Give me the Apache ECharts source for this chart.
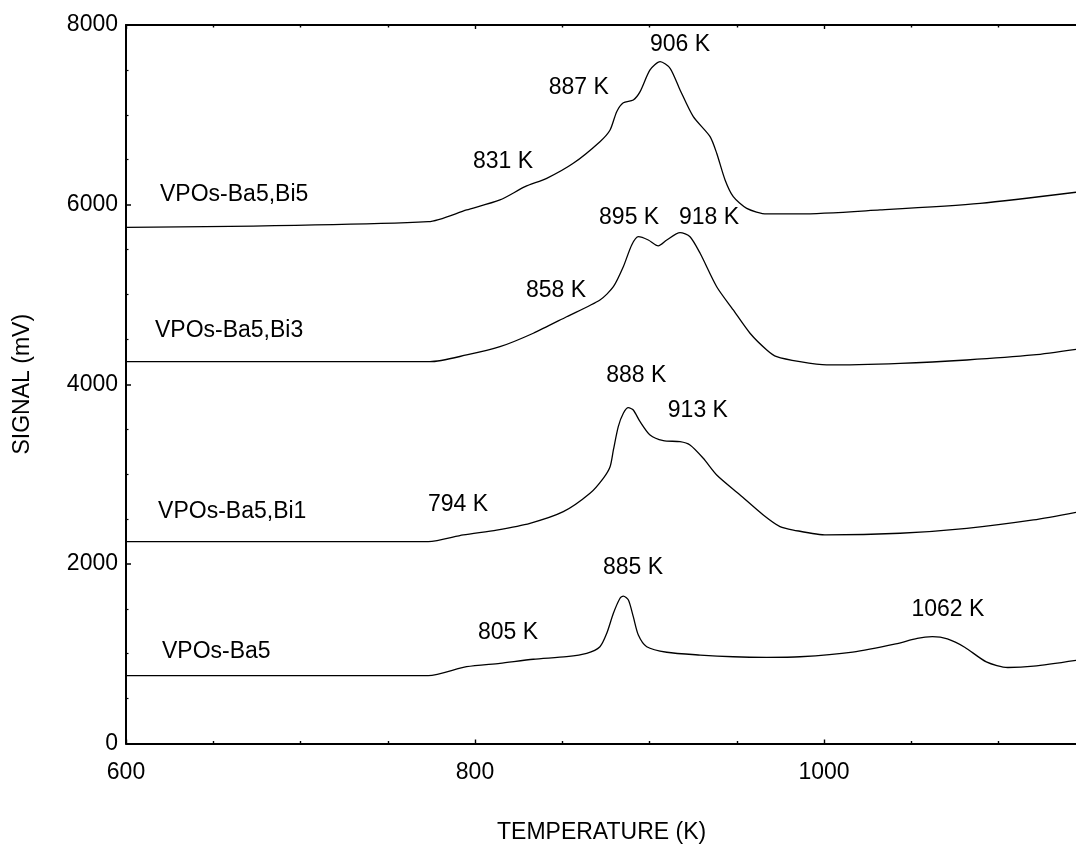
<!DOCTYPE html>
<html>
<head>
<meta charset="utf-8">
<script src="https://cdn.jsdelivr.net/npm/echarts@6/dist/echarts.min.js"></script>
<style>
  html, body { margin: 0; padding: 0; background: #fff; }
  #chart { width: 1076px; height: 847px; }
</style>
</head>
<body>
<div id="chart"></div>
<script>
// ---- Data (temperature K, signal mV) ----
var ba5 = [
  [600, 755], [773.2, 755], [795.2, 855], [814.3, 893], [833.4, 938], [852.5, 967],
  [864.0, 1004], [871.6, 1078], [875.5, 1227], [879.3, 1450], [883.1, 1617], [885.0, 1642],
  [887.9, 1598], [890.7, 1412], [893.6, 1208], [898.4, 1078], [909.9, 1016], [929.0, 985],
  [948.0, 966], [967.2, 960], [986.2, 966], [1016.4, 1018], [1041.1, 1109], [1053.4, 1171],
  [1062.1, 1189], [1070.7, 1164], [1080.6, 1072], [1093.0, 909], [1105.3, 846],
  [1120.1, 861], [1144.4, 926]
];
var bi1 = [
  [600, 2247], [773.2, 2247], [793.3, 2322], [812.4, 2377], [831.5, 2452], [850.6, 2581],
  [865.9, 2786], [873.5, 2953], [877.4, 3082], [879.3, 3268], [882.1, 3528], [885.0, 3677],
  [887.9, 3739], [890.7, 3713], [894.6, 3583], [900.3, 3435], [907.9, 3372], [917.5, 3361],
  [923.2, 3324], [930.8, 3176], [938.5, 2990], [951.9, 2767], [965.2, 2544], [974.8, 2414],
  [982.4, 2377], [1001.5, 2322], [1043.6, 2341], [1081.8, 2396], [1120.0, 2489], [1144.4, 2574]
];
var bi3 = [
  [600, 4251], [774.2, 4251], [795.2, 4326], [814.3, 4418], [833.4, 4568], [852.5, 4752],
  [871.6, 4938], [879.3, 5086], [885.0, 5309], [889.8, 5551], [893.6, 5643], [899.3, 5606],
  [905.0, 5540], [909.9, 5606], [917.5, 5688], [923.2, 5643], [929.0, 5458], [938.5, 5086],
  [948.0, 4827], [957.6, 4568], [967.2, 4382], [972.9, 4307], [986.2, 4251], [1001.5, 4215],
  [1043.6, 4233], [1081.8, 4270], [1120.0, 4326], [1144.4, 4389]
];
var bi5 = [
  [600, 5746], [773.2, 5810], [795.2, 5941], [814.3, 6052], [828.7, 6200], [841.1, 6293],
  [856.3, 6460], [871.6, 6701], [877.4, 6831], [881.2, 7035], [885.0, 7135], [890.7, 7165],
  [894.6, 7258], [900.3, 7500], [906.1, 7592], [911.8, 7518], [917.5, 7277], [925.1, 6979],
  [934.7, 6757], [938.5, 6572], [943.3, 6275], [948.0, 6089], [955.7, 5959], [967.2, 5896],
  [986.2, 5896], [1032.1, 5941], [1089.4, 6015], [1144.4, 6138]
];
// Peak annotations: [T, signal, text]
var peakLabels = [
  [917.5, 7778, '906 K'], [859.5, 7299, '887 K'], [816.0, 6483, '831 K'],
  [888.3, 5850, '895 K'], [934.1, 5850, '918 K'], [846.4, 5039, '858 K'],
  [892.4, 4094, '888 K'], [927.7, 3705, '913 K'], [790.3, 2660, '794 K'],
  [890.5, 1960, '885 K'], [1071.0, 1495, '1062 K'], [818.9, 1236, '805 K']
];
// Sample names: [T, signal, text] (left anchored)
var sampleLabels = [
  [619.5, 6108, 'VPOs-Ba5,Bi5'], [616.6, 4595, 'VPOs-Ba5,Bi3'],
  [618.4, 2581, 'VPOs-Ba5,Bi1'], [620.6, 1019, 'VPOs-Ba5']
];
// Tick values
var xMajorTicks = [600, 800, 1000];
var xMinorTicks = [650, 700, 750, 850, 900, 950, 1050, 1100];
var yTickValues = [0, 2000, 4000, 6000, 8000];

var FONT = '"Liberation Sans", Arial, sans-serif';
var chart = echarts.init(document.getElementById('chart'), null, { renderer: 'canvas' });

function lineSeries(name, data) {
  return {
    name: name, type: 'line', data: data, symbol: 'none', smooth: 0.25,
    lineStyle: { color: '#000', width: 1.3 }, silent: true, animation: false,
    xAxisIndex: 0, yAxisIndex: 0
  };
}
function textSeries(data, align) {
  return {
    type: 'scatter', data: data, symbolSize: 0, silent: true, animation: false,
    xAxisIndex: 0, yAxisIndex: 0,
    itemStyle: { opacity: 1, color: '#000' },
    label: {
      show: true, position: 'inside', color: '#000', opacity: 1, fontFamily: FONT, fontSize: 23,
      align: align, verticalAlign: 'middle',
      formatter: function (p) { return p.data[2]; }
    }
  };
}
function plain(v) { return String(v); }

function xAxisDef(position, tickValues, tickLen, showLabel, showLine) {
  return {
    type: 'value', min: 600, max: 1144.4, interval: 200, position: position,
    axisLine: { show: showLine, onZero: false, lineStyle: { color: '#000', width: 2 } },
    axisTick: { show: true, inside: true, length: tickLen, customValues: tickValues,
                lineStyle: { color: '#000', width: 1.4 } },
    minorTick: { show: false },
    splitLine: { show: false },
    axisLabel: showLabel ? {
      show: true, color: '#000', fontFamily: FONT, fontSize: 23, margin: 18,
      customValues: xMajorTicks, formatter: plain
    } : { show: false }
  };
}

var option = {
  backgroundColor: '#fff',
  animation: false,
  grid: { left: 126, top: 25, right: 0, bottom: 103.5, containLabel: false },
  xAxis: [
    xAxisDef('bottom', xMajorTicks, 4, true, true),
    xAxisDef('bottom', xMinorTicks, 2.5, false, false),
    xAxisDef('top', xMajorTicks, 4, false, true),
    xAxisDef('top', xMinorTicks, 2.5, false, false)
  ],
  yAxis: {
    type: 'value', min: 0, max: 8000, interval: 2000,
    name: 'SIGNAL (mV)', nameLocation: 'middle', nameGap: 92, nameRotate: 90,
    nameTextStyle: { color: '#000', fontFamily: FONT, fontSize: 23 },
    axisLine: { show: true, lineStyle: { color: '#000', width: 2 } },
    axisTick: { show: true, inside: true, length: 5, lineStyle: { color: '#000', width: 1.5 } },
    minorTick: { show: true, splitNumber: 4, length: 2.5, lineStyle: { color: '#000', width: 1.2 } },
    axisLabel: { color: '#000', fontFamily: FONT, fontSize: 23, margin: 8, customValues: yTickValues, formatter: plain },
    splitLine: { show: false }
  },
  graphic: [{
    type: 'text', left: 497, top: 821,
    style: { text: 'TEMPERATURE (K)', fill: '#000', font: '23px ' + FONT }
  }],
  series: [
    lineSeries('VPOs-Ba5', ba5),
    lineSeries('VPOs-Ba5,Bi1', bi1),
    lineSeries('VPOs-Ba5,Bi3', bi3),
    lineSeries('VPOs-Ba5,Bi5', bi5),
    textSeries(peakLabels, 'center'),
    textSeries(sampleLabels, 'left')
  ]
};
chart.setOption(option);
</script>
</body>
</html>
